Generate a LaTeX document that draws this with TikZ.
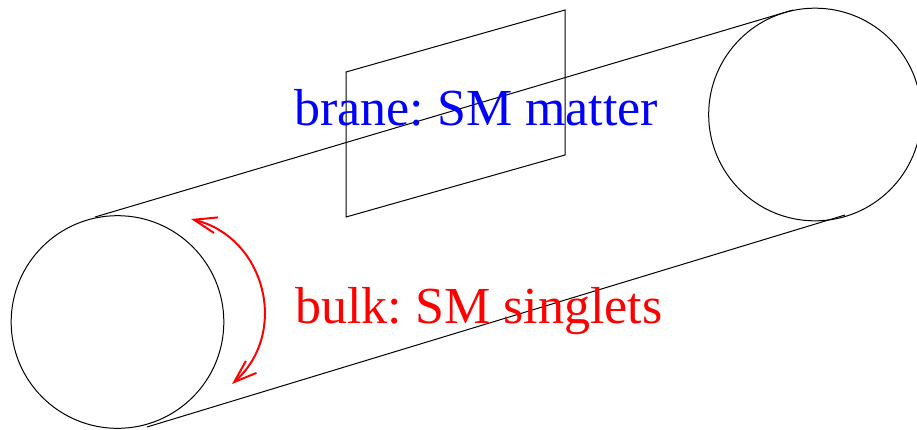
\documentclass[tikz,border=0pt]{standalone}
\usepackage{fontspec}
\setmainfont{Liberation Serif}
\usetikzlibrary{arrows.meta}
\definecolor{bluetxt}{RGB}{0,0,255}
\definecolor{redtxt}{RGB}{255,0,0}
\tikzset{px/.style={x=0.75pt,y=-0.75pt},
 thinline/.style={draw=black,line width=0.75pt},
 lbl/.style={inner sep=0pt,anchor=base west,font=\fontsize{39}{39}\selectfont\frenchspacing}}
\begin{document}
\begin{tikzpicture}[px]
\useasboundingbox (0,0) rectangle (917,429);
\node[circle,thinline,minimum size=159.5pt,inner sep=0pt] (c1) at (117.5,322) {};
\node[circle,thinline,minimum size=159.5pt,inner sep=0pt] (c2) at (815,114.5) {};
\coordinate (t1) at (95,217); \coordinate (t2) at (793,10);
\coordinate (b1) at (147,427); \coordinate (b2) at (845,215);
\draw[thinline] (t1) -- (t2);
\draw[thinline] (b1) -- (b2);
\coordinate (p1) at (346,72); \coordinate (p2) at (565,10); \coordinate (p3) at (565,155); \coordinate (p4) at (346,217);
\draw[thinline] (p1) -- (p2) -- (p3) -- (p4) -- cycle;
\coordinate (a1) at (191,219); \coordinate (a2) at (232,384);
\draw[draw=red,line width=1.5pt,{Straight Barb[length=17pt,width=12pt]}-{Straight Barb[length=17pt,width=12pt]}] (a1) .. controls (265.7,237.5) and (289.5,332.9) .. (a2);
\node[lbl,text=bluetxt] (brane) at (294,125.5) {brane: SM matter};
\node[lbl,text=redtxt] (bulk) at (295,323.5) {bulk: SM singlets};
\end{tikzpicture}
\end{document}
